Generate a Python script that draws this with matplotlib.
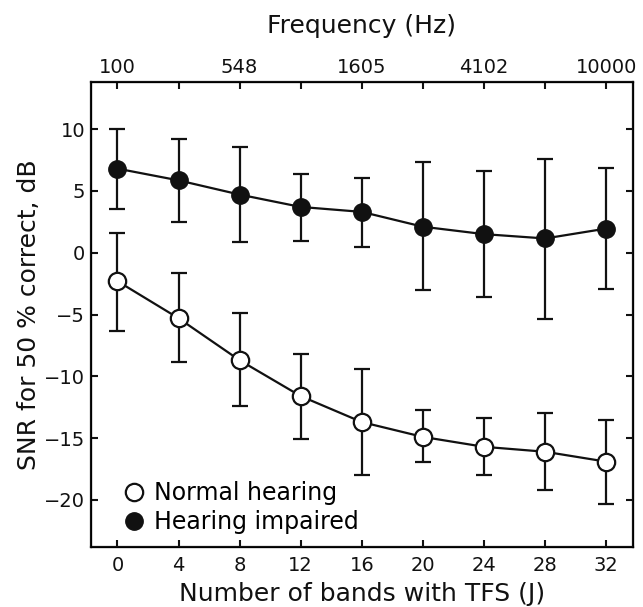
import matplotlib
matplotlib.use("Agg")
import matplotlib.pyplot as plt
from matplotlib.lines import Line2D

bands = [0, 4, 8, 12, 16, 20, 24, 28, 32]

nh_mean = [-2.3, -5.3, -8.7, -11.6, -13.7, -14.9, -15.7, -16.1, -16.9]
nh_low = [-6.3, -8.85, -12.4, -15.05, -18.0, -16.95, -17.95, -19.2, -20.3]
nh_high = [1.6, -1.65, -4.85, -8.2, -9.4, -12.75, -13.4, -12.95, -13.5]

hi_mean = [6.8, 5.85, 4.7, 3.7, 3.3, 2.1, 1.5, 1.15, 1.95]
hi_low = [3.55, 2.45, 0.9, 0.95, 0.5, -3.05, -3.6, -5.35, -2.9]
hi_high = [10.0, 9.2, 8.55, 6.35, 6.05, 7.3, 6.6, 7.55, 6.85]

top_tick_labels = ["100", "", "548", "", "1605", "", "4102", "", "10000"]

fig = plt.figure(figsize=(6.43, 6.07), dpi=100)
ax = fig.add_axes([0.141, 0.0983, 0.8434, 0.7661])

col = "#111111"
lw = 1.6
ms = 12.5

def err(mean, low, high):
    return [[m - l for m, l in zip(mean, low)], [h - m for m, h in zip(mean, high)]]

ax.errorbar(bands, hi_mean, yerr=err(hi_mean, hi_low, hi_high), fmt="o-",
            color=col, mfc=col, mec=col, ms=ms, lw=lw, elinewidth=lw,
            capsize=6, capthick=lw, zorder=3)
ax.errorbar(bands, nh_mean, yerr=err(nh_mean, nh_low, nh_high), fmt="o-",
            color=col, mfc="white", mec=col, mew=lw, ms=ms, lw=lw, elinewidth=lw,
            capsize=6, capthick=lw, zorder=3)

ax.set_xlim(-1.75, 33.75)
ax.set_ylim(-23.83, 13.78)
ax.set_xticks(bands)
ax.set_yticks([-20, -15, -10, -5, 0, 5, 10])
ax.tick_params(direction="in", length=5, width=1.5, labelsize=14, colors=col,
               right=True)
ax.tick_params(axis="x", pad=6)
ax.tick_params(axis="y", pad=4)
for s in ax.spines.values():
    s.set_linewidth(1.6)
    s.set_color(col)

ax.set_xlabel("Number of bands with TFS (J)", fontsize=18, labelpad=5, color=col)
ax.set_ylabel("SNR for 50 % correct, dB", fontsize=18, labelpad=2, color=col)

ax2 = ax.twiny()
ax2.set_xlim(ax.get_xlim())
ax2.set_xticks(bands)
ax2.set_xticklabels(top_tick_labels)
ax2.tick_params(direction="in", length=5, width=1.5, labelsize=14, colors=col, pad=4)
ax2.set_xlabel("Frequency (Hz)", fontsize=18, labelpad=18, color=col)

handles = [
    Line2D([], [], marker="o", ls="none", mfc="white", mec=col, mew=lw, ms=ms),
    Line2D([], [], marker="o", ls="none", mfc=col, mec=col, ms=ms),
]
ax.legend(handles, ["Normal hearing", "Hearing impaired"], loc="lower left",
          bbox_to_anchor=(0.04, 0.003), frameon=False, fontsize=17,
          handlelength=0.8, handletextpad=0.45, labelspacing=0.2, borderpad=0)

fig.savefig("out.png", dpi=100)
